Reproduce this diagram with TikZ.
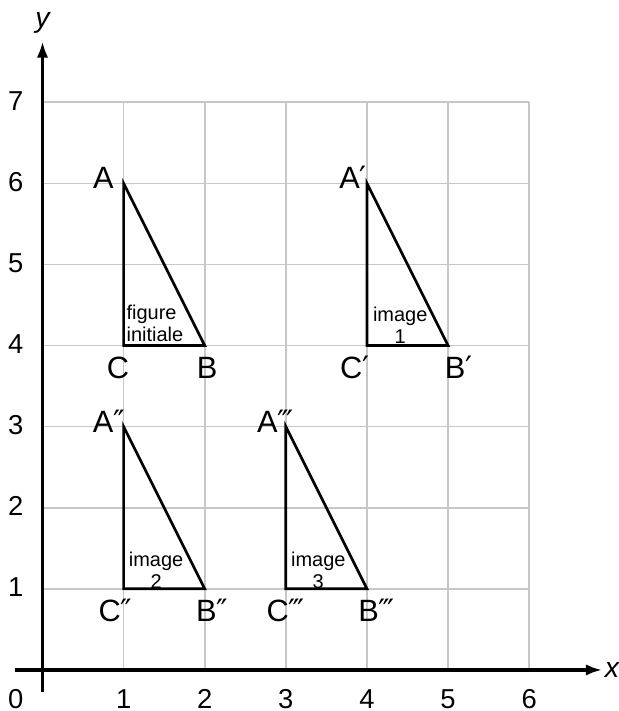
\documentclass[tikz,border=0pt]{standalone}
\usepackage{fontspec}
\setmainfont{Liberation Sans}
\newfontfamily\prfont{DejaVu Sans}
\usetikzlibrary{arrows.meta}
\newcommand{\pA}{{\prfont ′}}
\newcommand{\pB}{{\prfont ″}}
\newcommand{\pC}{{\prfont ‴}}
\begin{document}
\begin{tikzpicture}[
  gridline/.style={draw=black!22, line width=0.55pt},
  axisline/.style={line width=1.15pt},
  tri/.style={line width=0.95pt, line join=miter},
  vlab/.style={font=\fontsize{10.8}{12}\selectfont, inner sep=0pt},
  tlab/.style={font=\fontsize{9.6}{11}\selectfont, inner sep=0pt, anchor=base},
  inlab/.style={font=\fontsize{7}{7.8}\selectfont, inner sep=0pt, align=center},
]
\useasboundingbox (-0.524,-0.506) rectangle (7.10,8.26);
% grid
\foreach \i in {1,...,6} \draw[gridline] (\i,0) -- (\i,7);
\foreach \j in {1,...,7} \draw[gridline] (0,\j) -- (6,\j);
% axes
\coordinate (xs) at (-0.34,0);
\coordinate (xe) at (6.9,0);
\coordinate (ys) at (0,-0.27);
\coordinate (ye) at (0,7.75);
\draw[axisline,-{Latex[length=0.2cm,width=0.14cm]}] (xs) -- (xe);
\draw[axisline,-{Latex[length=0.2cm,width=0.14cm]}] (ys) -- (ye);
\node[font=\fontsize{10}{11}\selectfont\itshape, inner sep=0pt] (xl) at (7.02,0) {x};
\node[font=\fontsize{10}{11}\selectfont\itshape, inner sep=0pt] (yl) at (0,7.98) {y};
% tick labels
\node[tlab] (t0) at (-0.33,-0.47) {0};
\foreach \i in {1,...,6} \node[tlab] (tx\i) at (\i,-0.47) {\i};
\foreach \j in {1,...,7} \node[tlab] (ty\j) at (-0.33,\j-0.1) {\j};
% triangle 1
\coordinate (A) at (1,6); \coordinate (B) at (2,4); \coordinate (C) at (1,4);
\draw[tri] (A) -- (C) -- (B) -- cycle;
\node[vlab] (lA) at (0.75,6.07) {A};
\node[vlab] (lC) at (0.93,3.73) {C};
\node[vlab] (lB) at (2.03,3.73) {B};
\node[inlab, align=left, anchor=west] (f0) at (1.03,4.27) {figure\\initiale};
% triangle 2
\coordinate (A1) at (4,6); \coordinate (B1) at (5,4); \coordinate (C1) at (4,4);
\draw[tri] (A1) -- (C1) -- (B1) -- cycle;
\node[vlab] (lA1) at (3.83,6.07) {A\pA};
\node[vlab] (lC1) at (3.85,3.73) {C\pA};
\node[vlab] (lB1) at (5.13,3.73) {B\pA};
\node[inlab] (f1) at (4.41,4.25) {image\\1};
% triangle 3
\coordinate (A2) at (1,3); \coordinate (B2) at (2,1); \coordinate (C2) at (1,1);
\draw[tri] (A2) -- (C2) -- (B2) -- cycle;
\node[vlab] (lA2) at (0.82,3.07) {A\pB};
\node[vlab] (lC2) at (0.9,0.74) {C\pB};
\node[vlab] (lB2) at (2.09,0.74) {B\pB};
\node[inlab] (f2) at (1.4,1.23) {image\\2};
% triangle 4
\coordinate (A3) at (3,3); \coordinate (B3) at (4,1); \coordinate (C3) at (3,1);
\draw[tri] (A3) -- (C3) -- (B3) -- cycle;
\node[vlab] (lA3) at (2.87,3.07) {A\pC};
\node[vlab] (lC3) at (3.0,0.74) {C\pC};
\node[vlab] (lB3) at (4.12,0.74) {B\pC};
\node[inlab] (f3) at (3.4,1.23) {image\\3};
\end{tikzpicture}
\end{document}
